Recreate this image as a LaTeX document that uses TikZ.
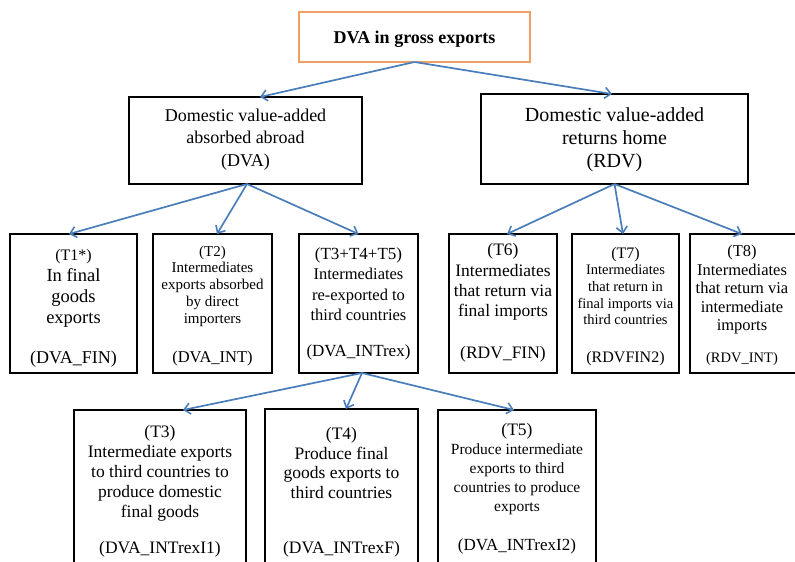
\documentclass[tikz,border=0pt]{standalone}
\usepackage{fontspec}
\setmainfont{Liberation Serif}
\usetikzlibrary{arrows.meta}
\newcommand\myfs[2]{\fontsize{#1}{#2}\selectfont}
\definecolor{arrowblue}{RGB}{74,126,187}
\definecolor{boxorange}{RGB}{240,160,100}
\tikzset{
  box/.style={draw=black, line width=1.6pt, inner sep=0pt, outer sep=0pt, fill=white},
  topbox/.style={draw=boxorange, line width=1.4pt, inner sep=0pt, outer sep=0pt},
  txt/.style={inner sep=0pt, align=center, text=black},
  conn/.style={draw=arrowblue, line width=1.7pt, -{Straight Barb[length=6pt,width=11pt,line width=1.6pt]}}
}
\begin{document}
\begin{tikzpicture}[x=1pt,y=-1pt]
\useasboundingbox (0,0) rectangle (795,562);
\clip (0,0) rectangle (795,562);
\fill[white] (0,0) rectangle (795,562);

% top
\node[topbox, minimum width=231pt, minimum height=50pt] (top) at (414.5,37) {};
\node[txt, font=\myfs{18}{22}\bfseries] (toptxt) at (414.5,39) {DVA in gross exports};

% level 1
\node[box, minimum width=233pt, minimum height=87pt] (dva) at (245.5,140.5) {};
\node[txt, font=\myfs{18}{22.5}] (dvatxt) at (245.5,139.5) {Domestic value-added\\absorbed abroad\\(DVA)};

\node[box, minimum width=267pt, minimum height=90pt] (rdv) at (614.5,139) {};
\node[txt, font=\myfs{20}{23}] (rdvtxt) at (614.5,139.5) {Domestic value-added\\returns home\\(RDV)};

% level 2
\node[box, minimum width=127pt, minimum height=139pt] (t1) at (73.5,303.5) {};
\node[txt, font=\myfs{18.5}{21}] (t1txt) at (73.5,288) {{\myfs{16}{21}(T1*)}\\In final\\goods\\exports};
\node[txt, font=\myfs{18}{21}] (t1lbl) at (73.5,359) {(DVA\_FIN)};

\node[box, minimum width=119pt, minimum height=139pt] (t2) at (212.5,303.5) {};
\node[txt, font=\myfs{15}{16.7}] (t2txt) at (212.5,286) {(T2)\\Intermediates\\exports absorbed\\by direct\\importers};
\node[txt, font=\myfs{16.5}{20}] (t2lbl) at (212.5,359) {(DVA\_INT)};

\node[box, minimum width=119pt, minimum height=139pt] (t345) at (358.5,303.5) {};
\node[txt, font=\myfs{16.5}{20.5}] (t345txt) at (358.5,284) {{\myfs{17}{20.5}(T3+T4+T5)}\\Intermediates\\re-exported to\\third countries};
\node[txt, font=\myfs{17}{20}] (t345lbl) at (358.5,352) {(DVA\_INTrex)};

\node[box, minimum width=108pt, minimum height=139pt] (t6) at (503,303.5) {};
\node[txt, font=\myfs{17.5}{20.3}] (t6txt) at (503,282) {(T6)\\Intermediates\\that return via\\final imports};
\node[txt, font=\myfs{17.5}{20}] (t6lbl) at (503,354) {(RDV\_FIN)};

\node[box, minimum width=107pt, minimum height=139pt] (t7) at (625.5,303.5) {};
\node[txt, font=\myfs{14.5}{16.7}] (t7txt) at (625.5,286) {{\myfs{16}{16.7}(T7)}\\Intermediates\\that return in\\final imports via\\third countries};
\node[txt, font=\myfs{16}{20}] (t7lbl) at (625.5,359) {(RDVFIN2)};

\node[box, minimum width=106pt, minimum height=139pt] (t8) at (743,303.5) {};
\node[txt, font=\myfs{16.5}{18.5}] (t8txt) at (742,290) {(T8)\\Intermediates\\that return via\\intermediate\\imports};
\node[txt, font=\myfs{14.5}{18}] (t8lbl) at (742,359) {(RDV\_INT)};

% level 3
\node[box, minimum width=172pt, minimum height=162pt] (t3) at (160,491) {};
\node[txt, font=\myfs{17.5}{20}] (t3txt) at (160,473.5) {(T3)\\Intermediate exports\\to third countries to\\produce domestic\\final goods};
\node[txt, font=\myfs{17.5}{20}] (t3lbl) at (160,549) {(DVA\_INTrexI1)};

\node[box, minimum width=153pt, minimum height=164pt] (t4) at (341.5,491) {};
\node[txt, font=\myfs{17.5}{19.8}] (t4txt) at (341.5,463) {(T4)\\Produce final\\goods exports to\\third countries};
\node[txt, font=\myfs{17.5}{20}] (t4lbl) at (341.5,549) {(DVA\_INTrexF)};

\node[box, minimum width=158pt, minimum height=162pt] (t5) at (517,491) {};
\node[txt, font=\myfs{15.5}{19}] (t5txt) at (517,469.5) {{\myfs{17.5}{19}(T5)}\\Produce intermediate\\exports to third\\countries to produce\\exports};
\node[txt, font=\myfs{17}{20}] (t5lbl) at (517,546) {(DVA\_INTrexI2)};

% connectors
\draw[conn] (top.south) -- ([xshift=14.5pt]dva.north);
\draw[conn] (top.south) -- ([xshift=-2.5pt]rdv.north);

\draw[conn] ([xshift=1.5pt]dva.south) -- ([xshift=-4.5pt]t1.north);
\draw[conn] ([xshift=1.5pt]dva.south) -- ([xshift=4.5pt]t2.north);
\draw[conn] ([xshift=1.5pt]dva.south) -- (t345.north);

\draw[conn] (rdv.south) -- ([xshift=4pt]t6.north);
\draw[conn] (rdv.south) -- ([xshift=-2.5pt]t7.north);
\draw[conn] (rdv.south) -- ([xshift=-1pt]t8.north);

\draw[conn] ([xshift=3.5pt]t345.south) -- ([xshift=23pt]t3.north);
\draw[conn] ([xshift=3.5pt]t345.south) -- ([xshift=4.5pt]t4.north);
\draw[conn] ([xshift=3.5pt]t345.south) -- ([xshift=-3pt]t5.north);
\end{tikzpicture}
\end{document}
